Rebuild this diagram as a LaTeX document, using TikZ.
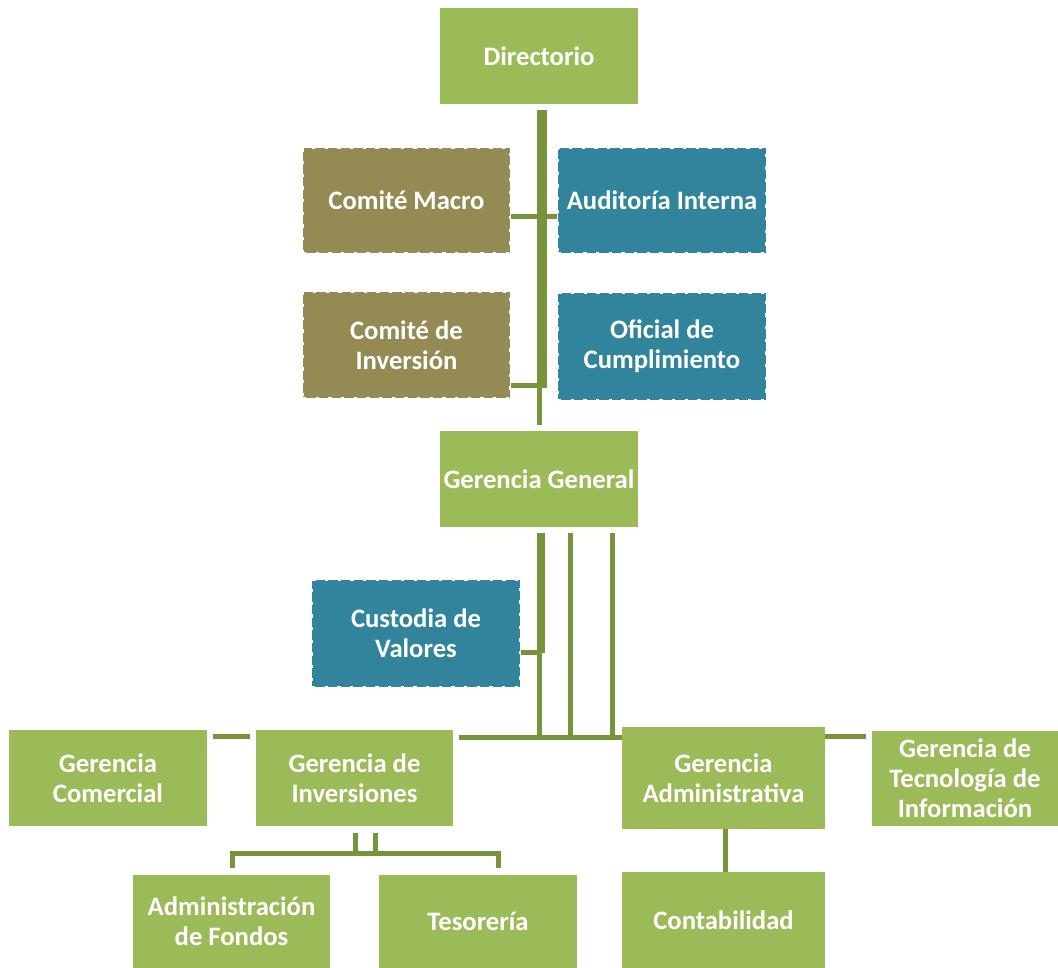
\documentclass[tikz,border=0pt]{standalone}
\usepackage{fontspec}
\setmainfont{Carlito}
\definecolor{lgreen}{HTML}{9BBB59}
\definecolor{olive}{HTML}{948A54}
\definecolor{teal}{HTML}{31849B}
\definecolor{conn}{HTML}{77933C}
\tikzset{
  box/.style={rectangle, fill=lgreen, text=white, inner sep=0pt, align=center,
    font=\bfseries\fontsize{20}{22.5}\selectfont},
  dbox/.style={box, draw=white, line width=1.5pt, dash pattern=on 2.5pt off 7pt},
  sz/.style 2 args={minimum width=#1*0.75pt, minimum height=#2*0.75pt},
  thin/.style={draw=conn, line width=3.75pt},
  thick/.style={draw=conn, line width=7pt},
}
\begin{document}
\begin{tikzpicture}[x=0.75pt,y=-0.75pt]
\useasboundingbox (0,0) rectangle (1058,968);
% nodes
\node[box, sz={198}{96}] (dir) at (539,56) {Directorio};
\node[dbox, fill=olive, sz={207}{105}] (cmac) at (406.5,200.5) {Comité Macro};
\node[dbox, fill=teal, sz={208}{105}] (aud) at (662,200.5) {Auditoría Interna};
\node[dbox, fill=olive, sz={207}{106}] (cinv) at (406.5,345) {Comité de\\Inversión};
\node[dbox, fill=teal, sz={208}{107}] (ofc) at (662,346.5) {Oficial de\\Cumplimiento};
\node[box, sz={198}{96}] (gg) at (539,479) {Gerencia General};
\node[dbox, fill=teal, sz={208}{107}] (cus) at (416,633.5) {Custodia de\\Valores};
\node[box, sz={198}{96}] (gcom) at (108,778) {Gerencia\\Comercial};
\node[box, sz={197}{96}] (ginv) at (354.5,778) {Gerencia de\\Inversiones};
\node[box, sz={203}{102}] (gadm) at (723.5,778) {Gerencia\\Administrativa};
\node[box, sz={186}{95}] (gti) at (965,778.5) {Gerencia de\\Tecnología de\\Información};
\node[box, sz={197}{93}] (adf) at (231.5,921.5) {Administración\\de Fondos};
\node[box, sz={198}{93}] (tes) at (478,921.5) {Tesorería};
\node[box, sz={203}{96}] (cont) at (723.5,920) {Contabilidad};
% junction coordinates
\coordinate (j1) at (542,388);
\coordinate (j2) at (541,653);
\coordinate (hb) at (539.5,737);
% connectors upper
\draw[thick] (542,110) -- (j1);
\draw[thin] (539.5,388) -- (539.5,425);
\draw[thin] (cmac.east |- 0,216) -- (aud.west |- 0,216);
\draw[thin] (cinv.east |- 0,385) -- (540,385);
% connectors from Gerencia General
\draw[draw=conn, line width=6pt] (541,533) -- (j2);
\draw[thin] (539.5,653) -- (hb);
\draw[thin] (cus.east |- 0,652) -- (540,652);
\draw[thin] (570.5,533) -- (570.5,737);
\draw[thin] (612.5,533) -- (612.5,737);
\draw[thin] (459,737) -- (gadm.west |- 0,737);
\draw[thin] (213,736) -- (250,736);
\draw[thin] (gadm.east |- 0,736) -- (866,736);
% Inversiones children
\draw[thin] (355.5,833) -- (355.5,853);
\draw[thin] (375.5,833) -- (375.5,853);
\draw[thin] (232,868) -- (232,853) -- (498,853) -- (498,868);
% Administrativa to Contabilidad
\draw[thin] (gadm.south -| 725.5,0) -- (cont.north -| 725.5,0);
\end{tikzpicture}
\end{document}
